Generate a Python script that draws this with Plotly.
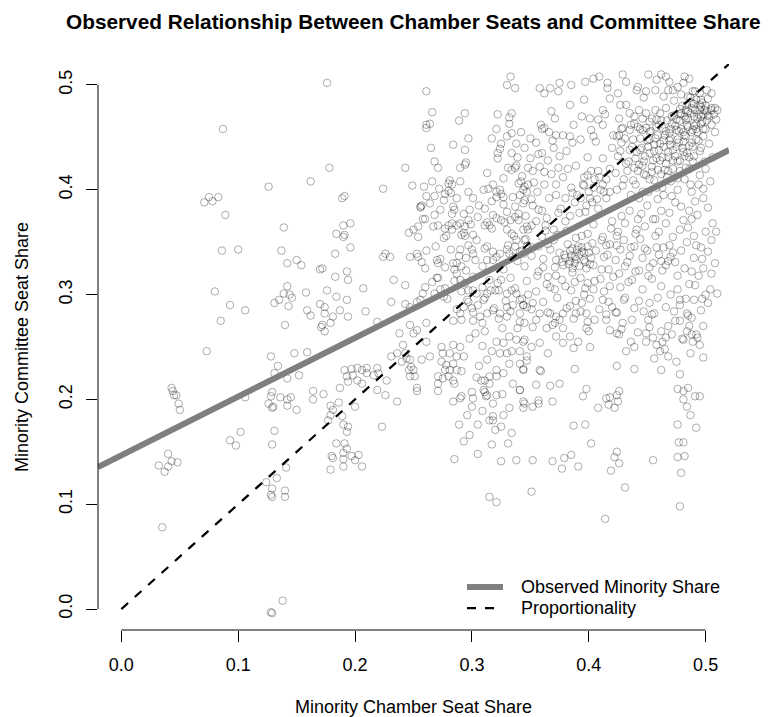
import plotly.graph_objects as go

# ---------------- data ----------------
left_pts = [
    (0.176, 0.502), (0.087, 0.458), (0.178, 0.421), (0.162, 0.408), (0.126, 0.403),
    (0.071, 0.388), (0.075, 0.393), (0.078, 0.389), (0.083, 0.393), (0.089, 0.376),
    (0.139, 0.364), (0.086, 0.342), (0.100, 0.343), (0.137, 0.342), (0.142, 0.330),
    (0.150, 0.333), (0.154, 0.328), (0.170, 0.324), (0.080, 0.303), (0.093, 0.290),
    (0.106, 0.285), (0.085, 0.275), (0.131, 0.292), (0.135, 0.295), (0.139, 0.301),
    (0.142, 0.308), (0.144, 0.300), (0.146, 0.297), (0.143, 0.289), (0.158, 0.302),
    (0.159, 0.285), (0.162, 0.280), (0.140, 0.271), (0.170, 0.291), (0.174, 0.288),
    (0.176, 0.304), (0.172, 0.271), (0.174, 0.265), (0.171, 0.269), (0.073, 0.246),
    (0.128, 0.241), (0.134, 0.232), (0.131, 0.225), (0.142, 0.220), (0.152, 0.223),
    (0.148, 0.244), (0.159, 0.245), (0.043, 0.211),
    (0.044, 0.208), (0.045, 0.204), (0.047, 0.204), (0.049, 0.196), (0.050, 0.190),
    (0.040, 0.148), (0.032, 0.137), (0.040, 0.136), (0.037, 0.131), (0.043, 0.141),
    (0.048, 0.140), (0.035, 0.078), (0.106, 0.202), (0.093, 0.161), (0.098, 0.156),
    (0.102, 0.169), (0.129, 0.207), (0.128, 0.203), (0.126, 0.196), (0.130, 0.193),
    (0.136, 0.202), (0.142, 0.200), (0.145, 0.202), (0.142, 0.194), (0.150, 0.190),
    (0.129, 0.192), (0.131, 0.170), (0.129, 0.157), (0.141, 0.135), (0.133, 0.125),
    (0.124, 0.121), (0.129, 0.115), (0.129, 0.107), (0.128, 0.109), (0.140, 0.113),
    (0.140, 0.107), (0.138, 0.008), (0.128, -0.003), (0.129, -0.004),
]

upper_mid_pts = [
    (0.261, 0.494), (0.333, 0.508), (0.330, 0.500), (0.337, 0.497),
    (0.266, 0.474), (0.261, 0.462), (0.261, 0.459), (0.264, 0.463), (0.294, 0.473), (0.289, 0.466),
    (0.322, 0.472), (0.334, 0.473), (0.332, 0.469), (0.332, 0.463), (0.321, 0.458), (0.317, 0.449),
    (0.325, 0.444), (0.330, 0.451), (0.334, 0.454), (0.338, 0.444), (0.324, 0.439), (0.322, 0.435),
    (0.322, 0.430), (0.334, 0.435), (0.265, 0.440), (0.284, 0.443), (0.297, 0.449), (0.294, 0.438),
    (0.243, 0.421), (0.268, 0.427), (0.271, 0.421), (0.290, 0.421), (0.294, 0.424), (0.295, 0.426),
    (0.313, 0.416), (0.334, 0.419), (0.337, 0.421), (0.338, 0.423),
    (0.224, 0.401), (0.189, 0.392), (0.191, 0.394), (0.249, 0.404),
    (0.259, 0.403), (0.266, 0.408), (0.261, 0.394), (0.257, 0.385), (0.256, 0.383), (0.264, 0.387),
    (0.268, 0.394), (0.281, 0.409), (0.280, 0.406), (0.283, 0.405), (0.280, 0.399), (0.277, 0.396),
    (0.276, 0.390), (0.282, 0.397), (0.290, 0.408), (0.297, 0.398),
    (0.310, 0.400), (0.314, 0.401), (0.318, 0.405), (0.321, 0.398), (0.324, 0.400), (0.325, 0.396),
    (0.321, 0.393), (0.327, 0.393), (0.327, 0.386), (0.330, 0.379), (0.335, 0.393), (0.341, 0.395),
    (0.344, 0.400), (0.342, 0.408), (0.340, 0.406), (0.345, 0.403), (0.337, 0.384), (0.340, 0.377),
    (0.344, 0.387), (0.347, 0.398),
    (0.256, 0.384), (0.260, 0.372), (0.268, 0.376), (0.273, 0.381), (0.284, 0.384), (0.285, 0.381),
    (0.283, 0.377), (0.293, 0.377), (0.297, 0.371), (0.294, 0.365),
    (0.190, 0.366), (0.196, 0.368), (0.184, 0.358), (0.190, 0.355), (0.191, 0.357), (0.196, 0.345),
    (0.183, 0.339), (0.172, 0.325),
    (0.246, 0.359), (0.250, 0.362), (0.254, 0.365), (0.254, 0.355), (0.258, 0.372), (0.267, 0.365),
    (0.277, 0.363), (0.280, 0.366), (0.278, 0.356), (0.283, 0.368), (0.287, 0.366), (0.290, 0.368),
    (0.293, 0.359), (0.294, 0.356), (0.301, 0.357),
    (0.311, 0.366), (0.313, 0.369), (0.315, 0.366), (0.318, 0.376), (0.321, 0.373), (0.325, 0.371),
    (0.328, 0.369), (0.337, 0.374), (0.340, 0.371), (0.330, 0.362), (0.334, 0.358), (0.338, 0.352),
    (0.344, 0.362), (0.347, 0.365), (0.337, 0.346),
    (0.226, 0.339), (0.224, 0.336), (0.230, 0.336),
    (0.247, 0.336), (0.253, 0.339), (0.254, 0.336), (0.257, 0.331), (0.261, 0.342), (0.260, 0.325),
    (0.270, 0.333), (0.271, 0.330),
    (0.290, 0.343), (0.287, 0.330), (0.300, 0.343), (0.301, 0.339), (0.295, 0.335), (0.291, 0.327),
    (0.285, 0.324),
    (0.313, 0.346), (0.313, 0.333), (0.318, 0.341), (0.318, 0.333), (0.324, 0.339), (0.330, 0.343),
    (0.332, 0.339), (0.335, 0.336), (0.341, 0.341), (0.344, 0.339), (0.347, 0.346),
    (0.183, 0.317), (0.193, 0.322), (0.194, 0.314), (0.184, 0.298), (0.193, 0.295), (0.207, 0.306),
    (0.174, 0.282), (0.181, 0.279), (0.187, 0.285), (0.194, 0.279), (0.209, 0.284), (0.179, 0.273),
    (0.219, 0.274),
    (0.233, 0.314), (0.243, 0.309), (0.231, 0.293), (0.243, 0.291), (0.247, 0.288), (0.253, 0.293),
    (0.256, 0.295), (0.258, 0.301), (0.260, 0.307), (0.266, 0.312), (0.270, 0.316), (0.273, 0.305),
    (0.268, 0.301), (0.276, 0.298),
    (0.284, 0.330), (0.287, 0.320), (0.290, 0.314), (0.294, 0.311), (0.297, 0.304), (0.301, 0.304),
    (0.304, 0.301), (0.296, 0.295), (0.293, 0.288), (0.300, 0.287), (0.305, 0.290), (0.310, 0.295),
    (0.313, 0.301), (0.316, 0.304), (0.320, 0.304), (0.322, 0.311), (0.325, 0.314), (0.330, 0.301),
    (0.334, 0.304), (0.338, 0.301), (0.341, 0.295), (0.344, 0.290), (0.335, 0.290), (0.330, 0.288),
    (0.324, 0.282), (0.318, 0.285), (0.313, 0.282), (0.307, 0.279), (0.330, 0.279), (0.341, 0.282),
    (0.347, 0.288), (0.301, 0.275), (0.290, 0.282), (0.284, 0.275),
]

lower_mid_pts = [
    (0.164, 0.208), (0.164, 0.200), (0.173, 0.205),
    (0.191, 0.228), (0.197, 0.229), (0.202, 0.230), (0.206, 0.228), (0.210, 0.230), (0.219, 0.230),
    (0.193, 0.222), (0.198, 0.223), (0.202, 0.218), (0.206, 0.215), (0.210, 0.225), (0.216, 0.223),
    (0.220, 0.225), (0.194, 0.217), (0.187, 0.211), (0.227, 0.218), (0.226, 0.204), (0.219, 0.209),
    (0.236, 0.198),
    (0.179, 0.194), (0.181, 0.190), (0.186, 0.197), (0.179, 0.185), (0.177, 0.180), (0.189, 0.184),
    (0.190, 0.176), (0.194, 0.174), (0.193, 0.169), (0.184, 0.158), (0.191, 0.158), (0.193, 0.153),
    (0.190, 0.149), (0.180, 0.146), (0.181, 0.144), (0.190, 0.143), (0.190, 0.136), (0.197, 0.146),
    (0.200, 0.142), (0.203, 0.147), (0.206, 0.136), (0.179, 0.133), (0.200, 0.193), (0.223, 0.174),
    (0.231, 0.241), (0.236, 0.244), (0.241, 0.252), (0.243, 0.244), (0.244, 0.239), (0.240, 0.236),
    (0.247, 0.238), (0.248, 0.231), (0.246, 0.228), (0.250, 0.228), (0.247, 0.222), (0.251, 0.222),
    (0.253, 0.211), (0.253, 0.208), (0.257, 0.238), (0.264, 0.241), (0.261, 0.255), (0.250, 0.263),
    (0.238, 0.263), (0.247, 0.271), (0.253, 0.266), (0.261, 0.273),
    (0.274, 0.250), (0.275, 0.244), (0.284, 0.252), (0.290, 0.250), (0.281, 0.244), (0.287, 0.241),
    (0.293, 0.241), (0.274, 0.236), (0.278, 0.233), (0.284, 0.234), (0.277, 0.228), (0.281, 0.228),
    (0.287, 0.228), (0.291, 0.227), (0.271, 0.222), (0.275, 0.220), (0.280, 0.222), (0.284, 0.218),
    (0.285, 0.215), (0.271, 0.208), (0.271, 0.215), (0.284, 0.198), (0.290, 0.201), (0.291, 0.203),
    (0.300, 0.207), (0.301, 0.201), (0.300, 0.193), (0.311, 0.207), (0.312, 0.203), (0.308, 0.218),
    (0.315, 0.215), (0.321, 0.222),
    (0.289, 0.176), (0.293, 0.160), (0.285, 0.143), (0.305, 0.176), (0.315, 0.180), (0.318, 0.184),
    (0.325, 0.174), (0.320, 0.171), (0.334, 0.168), (0.331, 0.158), (0.325, 0.141), (0.338, 0.142),
    (0.315, 0.107), (0.321, 0.102),
    (0.321, 0.255), (0.327, 0.254), (0.332, 0.260), (0.338, 0.257), (0.344, 0.255), (0.330, 0.244),
    (0.334, 0.246), (0.341, 0.246), (0.347, 0.241), (0.324, 0.244), (0.332, 0.234), (0.321, 0.228),
    (0.327, 0.225), (0.341, 0.234), (0.344, 0.228), (0.315, 0.222), (0.311, 0.218), (0.310, 0.209),
    (0.313, 0.204), (0.321, 0.204), (0.341, 0.209), (0.344, 0.198), (0.332, 0.192), (0.327, 0.185),
    (0.318, 0.180),
]

lower_right_pts = [
    (0.388, 0.229), (0.424, 0.232), (0.439, 0.229), (0.359, 0.227),
    (0.355, 0.214), (0.367, 0.213), (0.375, 0.215), (0.341, 0.209),
    (0.345, 0.196), (0.352, 0.193), (0.357, 0.199), (0.357, 0.196), (0.369, 0.198), (0.344, 0.192),
    (0.395, 0.203), (0.398, 0.210), (0.408, 0.192), (0.415, 0.201), (0.418, 0.202), (0.417, 0.195),
    (0.422, 0.192), (0.424, 0.204), (0.426, 0.208), (0.425, 0.198),
    (0.387, 0.175), (0.397, 0.176), (0.402, 0.158),
    (0.352, 0.142), (0.369, 0.141), (0.377, 0.134), (0.379, 0.144), (0.385, 0.147), (0.391, 0.136),
    (0.424, 0.150), (0.422, 0.145), (0.426, 0.139), (0.419, 0.132),
    (0.455, 0.142), (0.351, 0.112), (0.431, 0.116), (0.414, 0.086),
    (0.478, 0.224), (0.476, 0.210), (0.481, 0.208), (0.485, 0.211), (0.491, 0.203), (0.495, 0.203),
    (0.481, 0.200), (0.484, 0.193), (0.487, 0.185), (0.476, 0.176), (0.492, 0.173), (0.477, 0.159),
    (0.481, 0.159), (0.476, 0.145), (0.482, 0.146), (0.479, 0.130), (0.478, 0.098), (0.498, 0.240),
    (0.424, 0.283), (0.415, 0.281), (0.398, 0.268), (0.400, 0.265), (0.418, 0.266), (0.424, 0.263),
    (0.426, 0.262), (0.436, 0.255), (0.439, 0.250), (0.432, 0.246), (0.449, 0.263), (0.452, 0.269),
    (0.451, 0.276), (0.454, 0.281), (0.456, 0.282), (0.455, 0.259), (0.458, 0.252), (0.463, 0.255),
    (0.466, 0.259), (0.468, 0.270), (0.462, 0.265), (0.465, 0.248), (0.461, 0.246), (0.456, 0.239),
    (0.468, 0.241), (0.481, 0.257), (0.488, 0.262), (0.489, 0.255), (0.493, 0.259), (0.484, 0.265),
    (0.478, 0.275), (0.485, 0.280), (0.488, 0.278),
    (0.344, 0.290), (0.352, 0.292), (0.358, 0.282), (0.367, 0.282), (0.372, 0.279), (0.378, 0.282),
    (0.384, 0.289), (0.389, 0.282), (0.398, 0.282), (0.345, 0.273), (0.352, 0.269), (0.364, 0.268),
    (0.369, 0.271), (0.375, 0.276), (0.345, 0.257), (0.351, 0.250), (0.358, 0.254), (0.365, 0.244),
    (0.372, 0.260), (0.378, 0.254), (0.384, 0.260), (0.391, 0.255), (0.387, 0.249), (0.401, 0.250),
    (0.347, 0.237), (0.344, 0.229), (0.358, 0.228), (0.378, 0.268),
    (0.478, 0.290), (0.484, 0.282), (0.490, 0.295), (0.496, 0.285), (0.502, 0.292), (0.486, 0.270),
    (0.492, 0.262), (0.480, 0.258), (0.498, 0.270), (0.504, 0.305), (0.474, 0.275),
]

upper_right_pts = [
    (0.358, 0.497), (0.362, 0.492), (0.367, 0.497), (0.374, 0.494), (0.375, 0.502), (0.385, 0.500),
    (0.397, 0.503), (0.404, 0.506), (0.409, 0.508), (0.416, 0.502), (0.416, 0.497), (0.425, 0.492),
    (0.429, 0.510), (0.432, 0.503), (0.441, 0.495), (0.442, 0.498), (0.449, 0.494), (0.451, 0.510),
    (0.458, 0.505), (0.462, 0.510), (0.466, 0.508), (0.468, 0.495), (0.472, 0.495), (0.481, 0.502),
    (0.486, 0.506), (0.489, 0.494), (0.495, 0.492), (0.501, 0.495), (0.505, 0.492),
    (0.368, 0.475), (0.359, 0.462), (0.362, 0.459), (0.372, 0.452), (0.387, 0.462), (0.394, 0.470),
    (0.401, 0.468), (0.408, 0.467), (0.412, 0.476), (0.414, 0.472), (0.402, 0.457), (0.404, 0.451),
    (0.350, 0.449), (0.384, 0.451), (0.426, 0.468), (0.432, 0.481), (0.435, 0.473), (0.439, 0.470),
    (0.443, 0.476), (0.449, 0.473), (0.454, 0.468), (0.457, 0.476), (0.461, 0.473), (0.466, 0.478),
    (0.471, 0.470), (0.475, 0.467), (0.479, 0.473), (0.483, 0.476), (0.488, 0.483), (0.492, 0.486),
    (0.496, 0.479), (0.501, 0.475), (0.505, 0.476), (0.509, 0.467), (0.508, 0.478), (0.510, 0.476),
    (0.496, 0.470), (0.492, 0.463), (0.489, 0.457), (0.485, 0.460), (0.481, 0.455), (0.475, 0.457),
    (0.469, 0.454), (0.463, 0.459), (0.458, 0.460), (0.452, 0.455), (0.446, 0.457), (0.442, 0.460),
    (0.435, 0.457), (0.429, 0.459), (0.424, 0.451), (0.426, 0.452),
    (0.480, 0.480), (0.485, 0.475), (0.490, 0.482), (0.495, 0.476), (0.500, 0.480), (0.487, 0.488),
    (0.478, 0.472), (0.493, 0.468), (0.498, 0.472), (0.505, 0.478), (0.482, 0.470), (0.488, 0.478),
    (0.496, 0.486),
]

core_pts = [
    (0.420, 0.440), (0.425, 0.432), (0.428, 0.445), (0.432, 0.425), (0.435, 0.438), (0.438, 0.448),
    (0.440, 0.430), (0.442, 0.418), (0.445, 0.440), (0.447, 0.427), (0.450, 0.447), (0.452, 0.435),
    (0.454, 0.422), (0.456, 0.443), (0.458, 0.430), (0.460, 0.438), (0.462, 0.415), (0.464, 0.447),
    (0.466, 0.425), (0.468, 0.436), (0.470, 0.443), (0.472, 0.420), (0.474, 0.432), (0.476, 0.448),
    (0.478, 0.428), (0.480, 0.440), (0.482, 0.452), (0.484, 0.435), (0.486, 0.420), (0.488, 0.445),
    (0.490, 0.432), (0.493, 0.455), (0.496, 0.440), (0.440, 0.405), (0.446, 0.398), (0.452, 0.410),
    (0.458, 0.402), (0.464, 0.395), (0.470, 0.408), (0.476, 0.400), (0.482, 0.410), (0.488, 0.398),
    (0.494, 0.405), (0.430, 0.410), (0.424, 0.400), (0.418, 0.420), (0.412, 0.430), (0.415, 0.410),
    (0.408, 0.418), (0.436, 0.395), (0.450, 0.385), (0.462, 0.380), (0.474, 0.388), (0.486, 0.380),
    (0.498, 0.392), (0.500, 0.420), (0.503, 0.470), (0.497, 0.465), (0.490, 0.470), (0.484, 0.462),
    (0.478, 0.466), (0.470, 0.458), (0.460, 0.462), (0.452, 0.465), (0.444, 0.458), (0.436, 0.462),
    (0.428, 0.458),
    (0.390, 0.395), (0.395, 0.405), (0.400, 0.398), (0.405, 0.410), (0.410, 0.400), (0.415, 0.392),
    (0.398, 0.385), (0.392, 0.378), (0.403, 0.388), (0.408, 0.382), (0.412, 0.405), (0.396, 0.412),
    (0.385, 0.402), (0.388, 0.388), (0.402, 0.418), (0.418, 0.398), (0.380, 0.392), (0.376, 0.382),
    (0.384, 0.375), (0.372, 0.395),
    (0.345, 0.440), (0.350, 0.430), (0.355, 0.445), (0.360, 0.435), (0.352, 0.418), (0.358, 0.422),
    (0.365, 0.428), (0.370, 0.440), (0.375, 0.432), (0.368, 0.415), (0.362, 0.405), (0.348, 0.405),
    (0.356, 0.398), (0.372, 0.405), (0.378, 0.412), (0.345, 0.390), (0.352, 0.385), (0.360, 0.380),
    (0.366, 0.392), (0.374, 0.378), (0.380, 0.370), (0.346, 0.375), (0.355, 0.370), (0.363, 0.366),
    (0.370, 0.362), (0.348, 0.362), (0.382, 0.420), (0.386, 0.445), (0.378, 0.452), (0.366, 0.455),
    (0.342, 0.455), (0.360, 0.458),
]

lower_core_pts = [
    (0.375, 0.340), (0.380, 0.335), (0.384, 0.342), (0.388, 0.330), (0.392, 0.338), (0.396, 0.333),
    (0.400, 0.340), (0.404, 0.328), (0.378, 0.328), (0.386, 0.325), (0.394, 0.345), (0.398, 0.325),
    (0.382, 0.348), (0.390, 0.343), (0.402, 0.335), (0.406, 0.342), (0.372, 0.333), (0.388, 0.336),
    (0.396, 0.340), (0.384, 0.332),
    (0.446, 0.335), (0.450, 0.342), (0.455, 0.330), (0.460, 0.338), (0.464, 0.345), (0.468, 0.332),
    (0.472, 0.340), (0.452, 0.326), (0.458, 0.345), (0.466, 0.328), (0.470, 0.336), (0.448, 0.344),
    (0.462, 0.332),
    (0.345, 0.352), (0.352, 0.345), (0.360, 0.355), (0.365, 0.348), (0.370, 0.352), (0.412, 0.355),
    (0.418, 0.348), (0.425, 0.360), (0.430, 0.352), (0.436, 0.345), (0.440, 0.358), (0.420, 0.370),
    (0.428, 0.375), (0.435, 0.380), (0.442, 0.372), (0.448, 0.365), (0.455, 0.372), (0.460, 0.360),
    (0.466, 0.368), (0.472, 0.355), (0.478, 0.362), (0.484, 0.350), (0.490, 0.356), (0.496, 0.345),
    (0.500, 0.360), (0.505, 0.352), (0.488, 0.372), (0.482, 0.325), (0.490, 0.335), (0.498, 0.325),
    (0.476, 0.318), (0.486, 0.310), (0.494, 0.318), (0.508, 0.330), (0.410, 0.315), (0.418, 0.308),
    (0.426, 0.320), (0.434, 0.312), (0.440, 0.322), (0.446, 0.305), (0.454, 0.315), (0.462, 0.308),
    (0.470, 0.300), (0.478, 0.295), (0.356, 0.318), (0.364, 0.310), (0.372, 0.318), (0.380, 0.308),
    (0.388, 0.312), (0.396, 0.300), (0.404, 0.305), (0.412, 0.295), (0.348, 0.300), (0.420, 0.288),
    (0.430, 0.295), (0.452, 0.292), (0.466, 0.288), (0.500, 0.300), (0.510, 0.301), (0.505, 0.320),
    (0.509, 0.360),
]

band_pts = [
    (0.271, 0.366), (0.283, 0.362), (0.299, 0.367), (0.317, 0.363), (0.351, 0.366), (0.363, 0.361),
    (0.404, 0.367), (0.419, 0.363), (0.431, 0.368), (0.441, 0.362),
    (0.276, 0.354), (0.291, 0.357), (0.304, 0.352), (0.336, 0.356), (0.346, 0.353), (0.373, 0.357),
    (0.389, 0.354), (0.399, 0.358), (0.411, 0.352), (0.424, 0.356),
    (0.269, 0.346), (0.282, 0.343), (0.297, 0.347), (0.311, 0.344), (0.331, 0.347), (0.343, 0.342),
    (0.357, 0.346), (0.367, 0.343), (0.415, 0.347), (0.427, 0.343), (0.439, 0.346),
    (0.273, 0.334), (0.289, 0.337), (0.303, 0.333), (0.321, 0.336), (0.339, 0.332), (0.351, 0.337),
    (0.361, 0.334), (0.413, 0.336), (0.423, 0.333), (0.435, 0.337),
    (0.277, 0.326), (0.295, 0.323), (0.309, 0.327), (0.327, 0.324), (0.345, 0.327), (0.357, 0.322),
    (0.371, 0.326), (0.417, 0.324), (0.431, 0.327), (0.443, 0.323),
    (0.271, 0.316), (0.285, 0.313), (0.301, 0.317), (0.315, 0.314), (0.333, 0.316), (0.347, 0.313),
    (0.365, 0.317), (0.377, 0.314), (0.393, 0.316), (0.405, 0.313), (0.421, 0.317), (0.437, 0.314),
    (0.277, 0.306), (0.291, 0.303), (0.309, 0.307), (0.323, 0.304), (0.337, 0.306), (0.355, 0.303),
    (0.367, 0.307), (0.385, 0.304), (0.397, 0.306), (0.413, 0.303), (0.427, 0.307),
    (0.279, 0.296), (0.297, 0.293), (0.311, 0.297), (0.329, 0.294), (0.343, 0.296), (0.361, 0.293),
    (0.373, 0.297), (0.389, 0.294), (0.401, 0.296), (0.417, 0.293), (0.431, 0.297), (0.443, 0.294),
    (0.287, 0.286), (0.301, 0.283), (0.319, 0.287), (0.333, 0.284), (0.351, 0.286), (0.365, 0.283),
    (0.381, 0.287), (0.393, 0.284), (0.409, 0.286), (0.423, 0.283), (0.439, 0.287),
    (0.291, 0.276), (0.309, 0.273), (0.323, 0.277), (0.341, 0.274), (0.355, 0.276), (0.371, 0.273),
    (0.387, 0.277), (0.399, 0.274), (0.415, 0.276), (0.429, 0.273),
]

dense_extra_pts = [
    (0.421, 0.452), (0.427, 0.437), (0.431, 0.449), (0.433, 0.418), (0.437, 0.441), (0.439, 0.463),
    (0.441, 0.436), (0.443, 0.424), (0.444, 0.449), (0.446, 0.468), (0.448, 0.432), (0.449, 0.414),
    (0.451, 0.441), (0.453, 0.456), (0.455, 0.428), (0.457, 0.449), (0.459, 0.419), (0.461, 0.444),
    (0.462, 0.466), (0.463, 0.431), (0.465, 0.452), (0.467, 0.412), (0.469, 0.447), (0.471, 0.463),
    (0.472, 0.428), (0.473, 0.485), (0.475, 0.441), (0.477, 0.456), (0.478, 0.418), (0.479, 0.491),
    (0.481, 0.446), (0.482, 0.432), (0.483, 0.467), (0.485, 0.489), (0.486, 0.442), (0.487, 0.473),
    (0.489, 0.427), (0.490, 0.461), (0.491, 0.494), (0.492, 0.448), (0.494, 0.472), (0.495, 0.437),
    (0.497, 0.483), (0.498, 0.458), (0.499, 0.427), (0.501, 0.466), (0.502, 0.487), (0.503, 0.444),
    (0.505, 0.462), (0.506, 0.431), (0.507, 0.472), (0.508, 0.455),
    (0.423, 0.416), (0.429, 0.404), (0.434, 0.427), (0.438, 0.409), (0.443, 0.392), (0.447, 0.415),
    (0.451, 0.398), (0.456, 0.409), (0.459, 0.391), (0.463, 0.402), (0.468, 0.418), (0.471, 0.394),
    (0.476, 0.411), (0.479, 0.384), (0.483, 0.421), (0.487, 0.405), (0.491, 0.389), (0.495, 0.414),
    (0.498, 0.401), (0.502, 0.383), (0.504, 0.408), (0.493, 0.376), (0.481, 0.371), (0.469, 0.378),
    (0.457, 0.372), (0.445, 0.377),
    (0.412, 0.462), (0.406, 0.446), (0.399, 0.431), (0.393, 0.448), (0.389, 0.423), (0.381, 0.437),
    (0.374, 0.421), (0.369, 0.447), (0.396, 0.486), (0.384, 0.481), (0.371, 0.468), (0.418, 0.487),
    (0.427, 0.481), (0.447, 0.488), (0.457, 0.495), (0.464, 0.489), (0.476, 0.498), (0.482, 0.508),
    (0.469, 0.503),
    (0.381, 0.361), (0.394, 0.356), (0.403, 0.349), (0.416, 0.338), (0.424, 0.347), (0.433, 0.331),
    (0.444, 0.353), (0.451, 0.318), (0.457, 0.356), (0.463, 0.323), (0.469, 0.347), (0.474, 0.331),
    (0.479, 0.342), (0.485, 0.364), (0.488, 0.322), (0.492, 0.347), (0.497, 0.334), (0.502, 0.341),
    (0.506, 0.368), (0.476, 0.305), (0.483, 0.296), (0.491, 0.309), (0.497, 0.296), (0.473, 0.284),
    (0.459, 0.297), (0.447, 0.284), (0.437, 0.276), (0.428, 0.267), (0.442, 0.264), (0.471, 0.262),
    (0.495, 0.252), (0.487, 0.244), (0.475, 0.236), (0.462, 0.228), (0.449, 0.255), (0.405, 0.276),
    (0.394, 0.292), (0.411, 0.324), (0.399, 0.311), (0.386, 0.321), (0.371, 0.305), (0.361, 0.326),
    (0.303, 0.263), (0.309, 0.251), (0.313, 0.238), (0.306, 0.232), (0.317, 0.246), (0.311, 0.265),
    (0.298, 0.258), (0.304, 0.221), (0.318, 0.196), (0.309, 0.189), (0.296, 0.185), (0.326, 0.205),
    (0.335, 0.215), (0.339, 0.268), (0.326, 0.268), (0.317, 0.157), (0.305, 0.148), (0.298, 0.166),
    (0.348, 0.421), (0.353, 0.407), (0.357, 0.434), (0.362, 0.417), (0.339, 0.431), (0.343, 0.413),
    (0.331, 0.421), (0.327, 0.411), (0.306, 0.385), (0.301, 0.392), (0.311, 0.382), (0.317, 0.389),
    (0.351, 0.391), (0.357, 0.381), (0.364, 0.373), (0.333, 0.371), (0.305, 0.374), (0.298, 0.381),
    (0.287, 0.392), (0.272, 0.401),
]

darkest_cluster_pts = [
    (0.452, 0.448), (0.456, 0.437), (0.459, 0.452), (0.461, 0.428), (0.464, 0.441), (0.466, 0.456),
    (0.468, 0.431), (0.470, 0.449), (0.472, 0.438), (0.474, 0.461), (0.476, 0.427), (0.477, 0.445),
    (0.479, 0.458), (0.481, 0.436), (0.483, 0.451), (0.485, 0.468), (0.486, 0.431), (0.488, 0.455),
    (0.489, 0.441), (0.491, 0.476), (0.492, 0.458), (0.494, 0.447), (0.495, 0.481), (0.496, 0.463),
    (0.498, 0.451), (0.499, 0.476), (0.500, 0.458), (0.502, 0.471), (0.484, 0.481), (0.478, 0.477),
    (0.473, 0.471), (0.467, 0.466), (0.458, 0.467), (0.449, 0.459), (0.444, 0.438), (0.439, 0.421),
    (0.446, 0.423), (0.454, 0.417), (0.465, 0.419), (0.473, 0.412),
    (0.379, 0.338), (0.383, 0.329), (0.386, 0.344), (0.389, 0.334), (0.392, 0.327), (0.394, 0.341),
    (0.397, 0.331), (0.399, 0.346), (0.401, 0.329), (0.385, 0.337), (0.391, 0.346), (0.377, 0.331),
    (0.396, 0.404), (0.401, 0.392), (0.404, 0.402), (0.407, 0.391), (0.409, 0.412), (0.393, 0.392),
    (0.386, 0.397), (0.399, 0.414), (0.413, 0.398), (0.397, 0.379),
]

# fitted line and proportionality line
fit_intercept = 0.1467
fit_slope = 0.560
prop_line_x = [0.0, 0.52]
prop_line_y = [0.0, 0.52]

axis_range = [-0.02, 0.52]
tick_vals = [0.0, 0.1, 0.2, 0.3, 0.4, 0.5]
tick_text = ["0.0", "0.1", "0.2", "0.3", "0.4", "0.5"]

title_text = "Observed Relationship Between Chamber Seats and Committee Share"
x_title = "Minority Chamber Seat Share"
y_title = "Minority Committee Seat Share"
legend_labels = ["Observed Minority Share", "Proportionality"]

# ---------------- figure ----------------
all_pts = (left_pts + upper_mid_pts + lower_mid_pts + lower_right_pts
           + upper_right_pts + core_pts + lower_core_pts + band_pts + dense_extra_pts
           + darkest_cluster_pts)
x_vals = [p[0] for p in all_pts]
y_vals = [p[1] for p in all_pts]

FONT = "Liberation Sans, Arial, Helvetica, sans-serif"
W, H = 771, 717
L, R, T, B = 98, 42, 64, 87
PW, PH = W - L - R, H - T - B


def px_x(px):
    return (px - L) / PW


def px_y(py):
    return (H - B - py) / PH


fig = go.Figure()

fig.add_trace(go.Scatter(
    x=x_vals, y=y_vals, mode="markers",
    marker=dict(symbol="circle-open", size=7.5, color="rgba(0,0,0,0.32)",
                line=dict(width=1)),
    hoverinfo="skip", showlegend=False,
))

fit_x = axis_range
fit_y = [fit_intercept + fit_slope * v for v in fit_x]
fig.add_trace(go.Scatter(
    x=fit_x, y=fit_y, mode="lines",
    line=dict(color="#7F7F7F", width=6), showlegend=False, hoverinfo="skip",
))

fig.add_trace(go.Scatter(
    x=prop_line_x, y=prop_line_y, mode="lines",
    line=dict(color="black", width=2.25, dash="9px,9px"), showlegend=False, hoverinfo="skip",
))

axis_common = dict(
    range=axis_range, showgrid=False, zeroline=False, showline=False,
    ticks="outside", ticklen=11, tickwidth=1, tickcolor="black",
    tickvals=tick_vals, ticktext=tick_text, ticklabelstandoff=7,
    tickfont=dict(family=FONT, size=18, color="black"),
)
fig.update_xaxes(**axis_common)
fig.update_yaxes(**axis_common, tickangle=-90)

shapes = [
    # axis lines spanning only the tick range (R style)
    dict(type="line", xref="x", yref="paper", x0=tick_vals[0], x1=tick_vals[-1], y0=0, y1=0,
         line=dict(color="black", width=1)),
    dict(type="line", xref="paper", yref="y", x0=0, x1=0, y0=tick_vals[0], y1=tick_vals[-1],
         line=dict(color="black", width=1)),
    # legend keys
    dict(type="line", xref="paper", yref="paper", x0=px_x(467), x1=px_x(503),
         y0=px_y(587), y1=px_y(587), line=dict(color="#7F7F7F", width=6)),
    dict(type="line", xref="paper", yref="paper", x0=px_x(467), x1=px_x(503),
         y0=px_y(608), y1=px_y(608), line=dict(color="black", width=2.25, dash="9px,9px")),
]

annotations = [
    dict(text="<b>" + title_text + "</b>", xref="paper", yref="paper", x=0.5, y=px_y(22),
         xanchor="center", yanchor="middle", showarrow=False,
         font=dict(family=FONT, size=20.8, color="black")),
    dict(text=x_title, xref="paper", yref="paper", x=0.5, y=px_y(707),
         xanchor="center", yanchor="middle", showarrow=False,
         font=dict(family=FONT, size=18, color="black")),
    dict(text=y_title, xref="paper", yref="paper", x=px_x(22), y=0.5, textangle=-90,
         xanchor="center", yanchor="middle", showarrow=False,
         font=dict(family=FONT, size=18, color="black")),
    dict(text=legend_labels[0], xref="paper", yref="paper", x=px_x(519), y=px_y(587),
         xanchor="left", yanchor="middle", showarrow=False,
         font=dict(family=FONT, size=18, color="black")),
    dict(text=legend_labels[1], xref="paper", yref="paper", x=px_x(519), y=px_y(608),
         xanchor="left", yanchor="middle", showarrow=False,
         font=dict(family=FONT, size=18, color="black")),
]

fig.update_layout(
    width=W, height=H,
    margin=dict(l=L, r=R, t=T, b=B, pad=0),
    paper_bgcolor="white", plot_bgcolor="white",
    showlegend=False,
    shapes=shapes, annotations=annotations,
    font=dict(family=FONT, size=18, color="black"),
)

fig.write_html("out.html")
